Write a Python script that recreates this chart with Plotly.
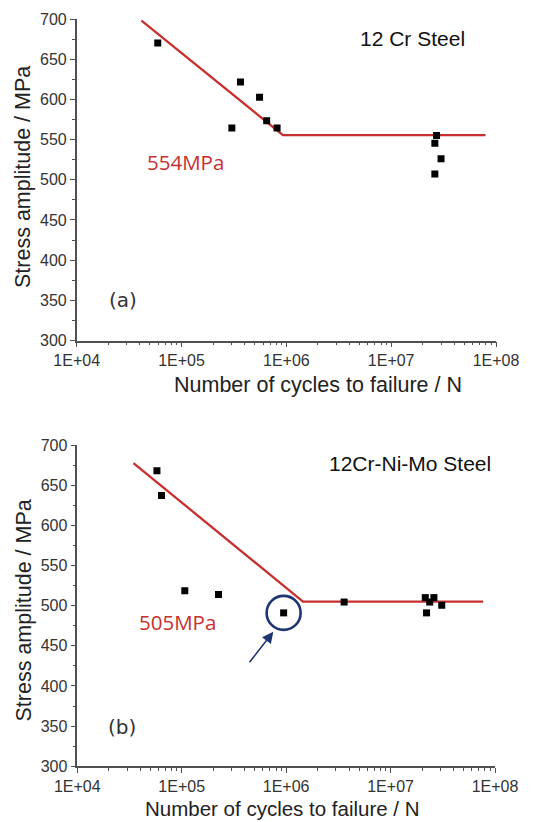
import math
import plotly.graph_objects as go

# ---- data: panel (a) 12 Cr Steel ----
a_cycles = [5.93e4, 3.02e5, 3.65e5, 5.55e5, 6.49e5, 8.16e5, 2.71e7, 2.61e7, 2.99e7, 2.61e7]
a_stress = [670, 564.5, 621.5, 602.5, 573.5, 564.5, 555, 545.5, 526, 507]
a_fit_cycles = [4.15e4, 9.28e5, 7.94e7]
a_fit_stress = [698, 555.5, 555.5]
a_limit_label = "554MPa"
a_title = "12 Cr Steel"

# ---- data: panel (b) 12Cr-Ni-Mo Steel ----
b_cycles = [5.79e4, 6.4e4, 1.07e5, 2.25e5, 9.46e5, 3.59e6, 2.15e7, 2.6e7, 2.37e7, 2.21e7, 3.09e7]
b_stress = [668, 637, 518.5, 514, 491, 504.5, 510, 510, 504.5, 491, 500.5]
b_fit_cycles = [3.45e4, 1.45e6, 7.7e7]
b_fit_stress = [677.5, 505, 505]
b_limit_label = "505MPa"
b_title = "12Cr-Ni-Mo Steel"
b_outlier_cycles = [9.46e5]
b_outlier_stress = [491]

# ---- axes ----
x_tick_vals = [1e4, 1e5, 1e6, 1e7, 1e8]
x_tick_text = ["1E+04", "1E+05", "1E+06", "1E+07", "1E+08"]
y_tick_vals = [300, 350, 400, 450, 500, 550, 600, 650, 700]
x_minor_vals = [m * 10 ** e for e in range(4, 8) for m in range(2, 10)]
y_minor_vals = [325, 375, 425, 475, 525, 575, 625, 675]

W, H = 541, 822
RED = "#c8302f"
BLUE = "#1d3570"
AX = "#505050"
TICKFONT = dict(family="Liberation Sans, Arial", size=16, color="#333333")

fig = go.Figure()

# panel (a)
fig.add_trace(go.Scatter(x=a_fit_cycles, y=a_fit_stress, mode="lines",
                         line=dict(color=RED, width=2.3), xaxis="x", yaxis="y",
                         showlegend=False, hoverinfo="skip"))
fig.add_trace(go.Scatter(x=a_cycles, y=a_stress, mode="markers",
                         marker=dict(symbol="square", size=7, color="black"),
                         xaxis="x", yaxis="y", showlegend=False))
# panel (b)
fig.add_trace(go.Scatter(x=b_fit_cycles, y=b_fit_stress, mode="lines",
                         line=dict(color=RED, width=2.3), xaxis="x2", yaxis="y2",
                         showlegend=False, hoverinfo="skip"))
fig.add_trace(go.Scatter(x=b_cycles, y=b_stress, mode="markers",
                         marker=dict(symbol="square", size=7, color="black"),
                         xaxis="x2", yaxis="y2", showlegend=False))
fig.add_trace(go.Scatter(x=b_outlier_cycles, y=b_outlier_stress, mode="markers",
                         marker=dict(symbol="circle-open", size=34,
                                     line=dict(color=BLUE, width=2.6), color=BLUE),
                         xaxis="x2", yaxis="y2", showlegend=False, hoverinfo="skip"))


def xaxis_cfg(domain, anchor):
    return dict(type="log", range=[4, 8], domain=domain, anchor=anchor,
                automargin=False,
                tickvals=x_tick_vals, ticktext=x_tick_text, ticks="outside",
                ticklen=5, tickwidth=1.2, tickcolor=AX, showline=True,
                linecolor=AX, linewidth=1.5, showgrid=False, zeroline=False,
                tickfont=TICKFONT,
                minor=dict(tickvals=x_minor_vals, ticks="outside", ticklen=3,
                           tickcolor=AX, tickwidth=1, showgrid=False))


def yaxis_cfg(domain, anchor):
    return dict(range=[300, 700], domain=domain, anchor=anchor,
                automargin=False,
                tickvals=y_tick_vals, ticks="outside", ticklen=5, tickwidth=1.2,
                tickcolor=AX, showline=True, linecolor=AX, linewidth=1.5,
                showgrid=False, zeroline=False, tickfont=TICKFONT,
                minor=dict(tickvals=y_minor_vals, ticks="outside", ticklen=3,
                           tickcolor=AX, tickwidth=1, showgrid=False))


fig.update_layout(
    width=W, height=H, margin=dict(l=0, r=0, t=0, b=0, autoexpand=False),
    paper_bgcolor="white", plot_bgcolor="white",
    xaxis=xaxis_cfg([76.7 / W, 496 / W], "y"),
    yaxis=yaxis_cfg([1 - 340.5 / H, 1 - 19 / H], "x"),
    xaxis2=xaxis_cfg([77.3 / W, 495 / W], "y2"),
    yaxis2=yaxis_cfg([1 - 766.3 / H, 1 - 445 / H], "x2"),
)

TITLEFONT = dict(family="Liberation Sans, Arial", size=21.5, color="#222222")
TITLEFONT_B = dict(family="Liberation Sans, Arial", size=20.5, color="#222222")
LABELFONT = dict(family="Liberation Sans, Arial", size=21, color="#111111")
REDFONT = dict(family="Open Sans, Lato", size=20.5, color=RED)
PANELFONT = dict(family="DejaVu Sans", size=20, color="#333333")

C = dict(xanchor="center", yanchor="middle", showarrow=False)
ann = []
# axis titles
ann.append(dict(text="Number of cycles to failure / N", xref="paper", yref="paper",
                x=318 / W, y=1 - 385 / H, font=TITLEFONT, **C))
ann.append(dict(text="Number of cycles to failure / N", xref="paper", yref="paper",
                x=282 / W, y=1 - 808 / H, font=TITLEFONT_B, **C))
ann.append(dict(text="Stress amplitude / MPa", xref="paper", yref="paper",
                x=23 / W, y=1 - 177 / H, textangle=-90, font=TITLEFONT, **C))
ann.append(dict(text="Stress amplitude / MPa", xref="paper", yref="paper",
                x=23 / W, y=1 - 610.5 / H, textangle=-90, font=TITLEFONT, **C))
# panel (a) texts
ann.append(dict(text=a_title, xref="x", yref="y", x=7.208, y=676,
                font=LABELFONT, **C))
ann.append(dict(text=a_limit_label, xref="x", yref="y", x=5.038, y=521.5,
                font=REDFONT, **C))
ann.append(dict(text="(a)", xref="x", yref="y", x=4.437, y=351,
                font=PANELFONT, **C))
# panel (b) texts
ann.append(dict(text=b_title, xref="x2", yref="y2", x=7.187, y=677,
                font=LABELFONT, **C))
ann.append(dict(text=b_limit_label, xref="x2", yref="y2", x=4.955, y=480,
                font=REDFONT, **C))
ann.append(dict(text="(b)", xref="x2", yref="y2", x=4.425, y=349,
                font=PANELFONT, **C))
# arrow pointing to the circled outlier
ann.append(dict(text="", xref="x2", yref="y2", x=math.log10(7.54e5), y=467.5,
                ax=-25, ay=32, showarrow=True, arrowhead=2, arrowsize=1.4,
                arrowwidth=1.6, arrowcolor=BLUE))
fig.update_layout(annotations=ann)

fig.write_html("out.html", config={"displayModeBar": False},
               post_script="document.body.style.margin='0';document.body.style.padding='0';")
